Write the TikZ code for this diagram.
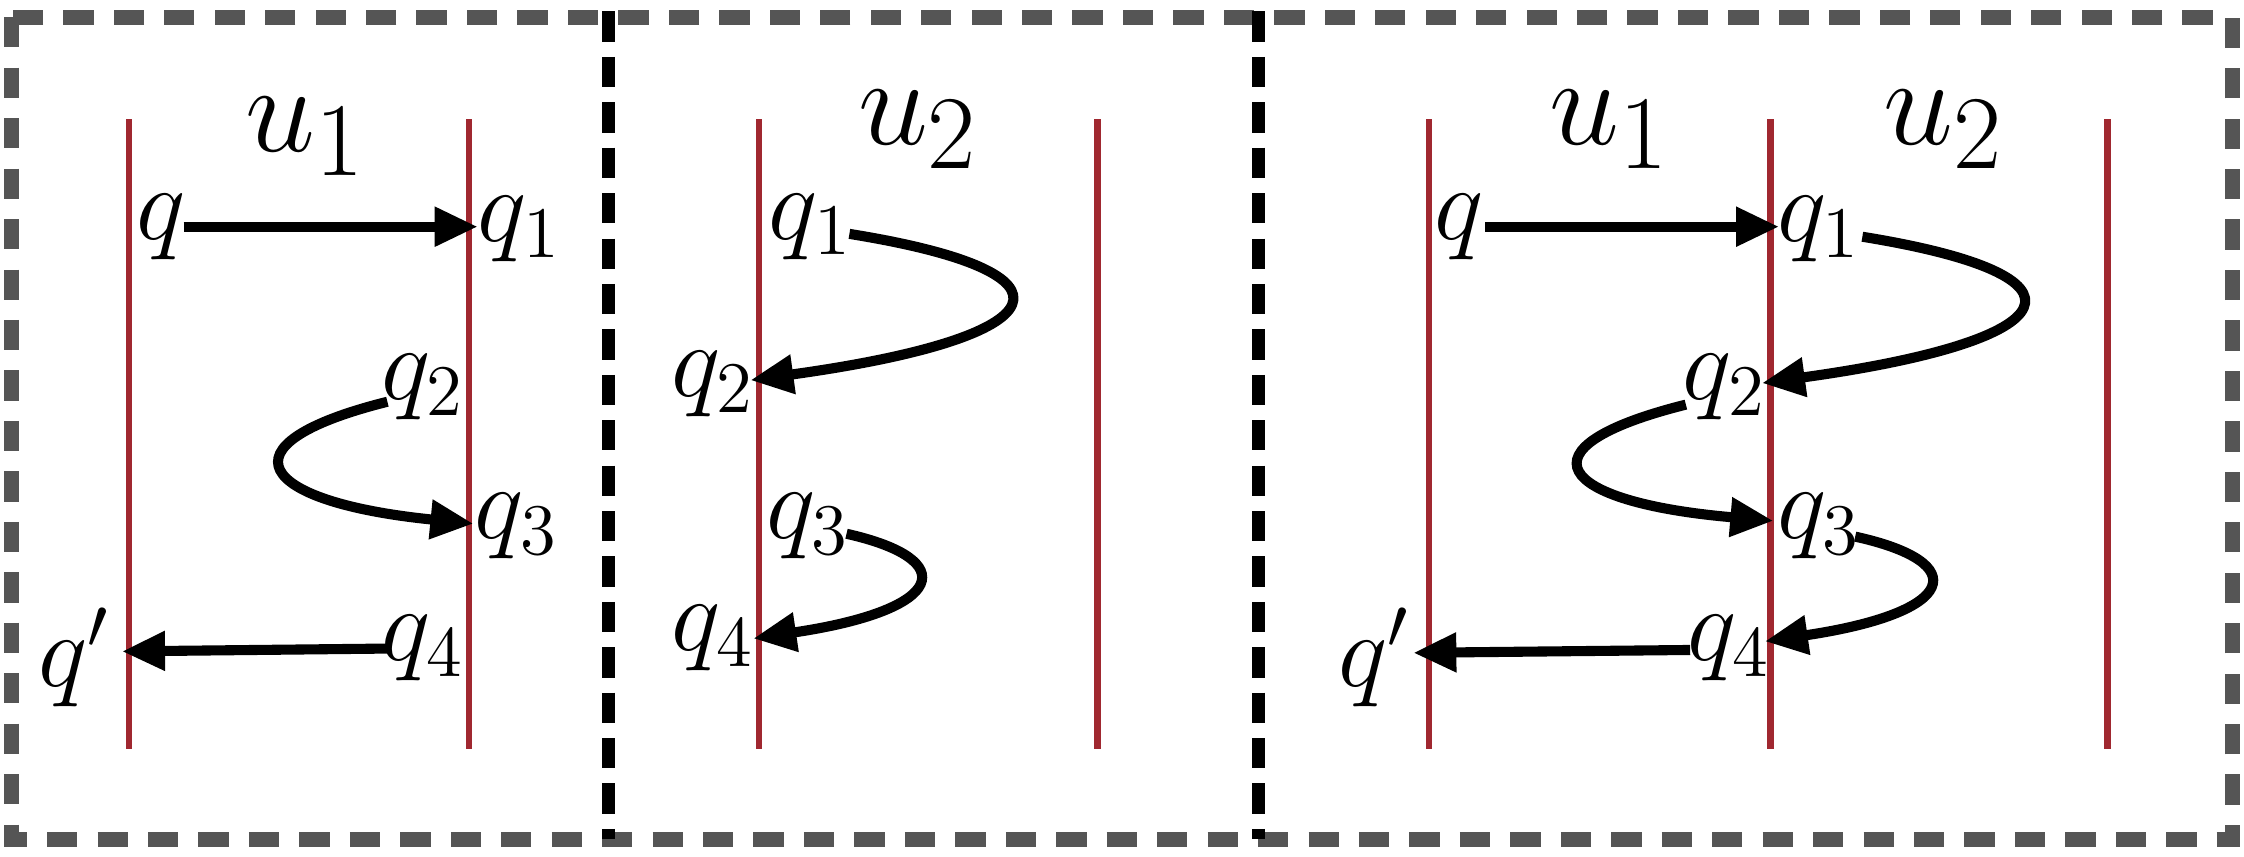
\documentclass[tikz,border=0pt]{standalone}
\usetikzlibrary{arrows.meta}
\definecolor{wall}{RGB}{160,40,48}
\definecolor{boxgray}{RGB}{85,85,85}
\begin{document}
\begin{tikzpicture}[x=0.01cm,y=-0.01cm,
  wallline/.style={wall,line width=1.3pt},
  arr/.style={line width=2pt,-{Triangle[length=0.3cm,width=0.26cm]}},
  lbl/.style={inner sep=0pt,font=\fontsize{21}{24}\selectfont},
  big/.style={inner sep=0pt,font=\fontsize{30}{34}\selectfont}]
\useasboundingbox (0,0) rectangle (1564,597);
\draw[boxgray,line width=3pt,dash pattern=on 6pt off 4pt] (8,12) rectangle (1556,585);
\draw[black,line width=2.6pt,dash pattern=on 6pt off 3pt] (424,8) coordinate (d1a) -- (424,585) coordinate (d1b);
\draw[black,line width=2.6pt,dash pattern=on 6pt off 3pt] (877,8) coordinate (d2a) -- (877,585) coordinate (d2b);
% walls
\foreach \n/\x in {a/90,b/327,c/529,d/765,e/996,f/1234,g/1469}{
  \draw[wallline] (\x,83) coordinate (\n t) -- (\x,522) coordinate (\n b);}
% labels
\node[big] (u1a) at (213,95) {$u_1$};
\node[big] (u2a) at (640,90) {$u_2$};
\node[big] (u1b) at (1122,90) {$u_1$};
\node[big] (u2b) at (1355,90) {$u_2$};
% panel 1
\node[lbl] (p1q) at (112,158) {$q$};
\node[lbl] (p1q1) at (362,160) {$q_1$};
\node[lbl] (p1q2) at (295,270) {$q_2$};
\node[lbl] (p1q3) at (360,367) {$q_3$};
\node[lbl] (p1q4) at (295,452) {$q_4$};
\node[lbl] (p1qp) at (52,458) {$q'$};
\coordinate (p1s) at (128,158); \coordinate (p1e) at (333,158);
\draw[arr] (p1s) -- (p1e);
\coordinate (p1a) at (270,280); \coordinate (p1b) at (330,365);
\draw[arr] (p1a) .. controls (150,310) and (180,350) .. (p1b);
\coordinate (p1c) at (272,452); \coordinate (p1d) at (85,454);
\draw[arr] (p1c) -- (p1d);
% panel 2
\node[lbl] (p2q1) at (565,158) {$q_1$};
\node[lbl] (p2q2) at (497,268) {$q_2$};
\node[lbl] (p2q3) at (563,367) {$q_3$};
\node[lbl] (p2q4) at (497,445) {$q_4$};
\coordinate (p2a) at (592,163); \coordinate (p2b) at (523,265);
\draw[arr] (p2a) .. controls (760,190) and (740,235) .. (p2b);
\coordinate (p2c) at (590,372); \coordinate (p2d) at (525,445);
\draw[arr] (p2c) .. controls (670,390) and (660,425) .. (p2d);
% panel 3
\node[lbl] (p3q) at (1017,158) {$q$};
\node[lbl] (p3q1) at (1268,160) {$q_1$};
\node[lbl] (p3q2) at (1202,270) {$q_2$};
\node[lbl] (p3q3) at (1268,367) {$q_3$};
\node[lbl] (p3q4) at (1205,452) {$q_4$};
\node[lbl] (p3qp) at (958,458) {$q'$};
\coordinate (p3s) at (1035,158); \coordinate (p3e) at (1240,158);
\draw[arr] (p3s) -- (p3e);
\coordinate (p3a) at (1298,165); \coordinate (p3b) at (1228,267);
\draw[arr] (p3a) .. controls (1465,192) and (1445,237) .. (p3b);
\coordinate (p3c) at (1175,282); \coordinate (p3d) at (1236,363);
\draw[arr] (p3c) .. controls (1055,312) and (1085,350) .. (p3d);
\coordinate (p3f) at (1293,374); \coordinate (p3g) at (1230,447);
\draw[arr] (p3f) .. controls (1375,392) and (1365,427) .. (p3g);
\coordinate (p3h) at (1178,453); \coordinate (p3i) at (985,455);
\draw[arr] (p3h) -- (p3i);
\end{tikzpicture}
\end{document}
